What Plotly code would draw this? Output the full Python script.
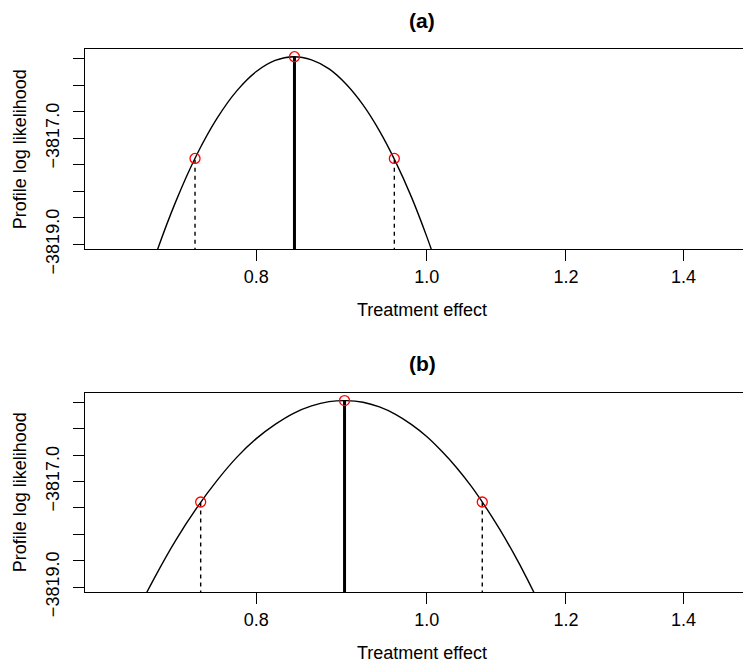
import plotly.graph_objects as go

# ---- data ----
effect_a = [0.68, 0.70, 0.72, 0.74, 0.76, 0.78, 0.80, 0.82, 0.84, 0.86, 0.88,
            0.90, 0.92, 0.94, 0.96, 0.98, 1.00, 1.02]
loglik_a = [-3820.57, -3819.27, -3818.19, -3817.31, -3816.62, -3816.10, -3815.74,
            -3815.53, -3815.46, -3815.52, -3815.69, -3815.98, -3816.37, -3816.86,
            -3817.44, -3818.10, -3818.85, -3819.67]
mle_a = 0.841
peak_a = -3815.46
ci_a = [0.7383, 0.9585]
ci_level_a = -3817.38

effect_b = [0.66, 0.68, 0.70, 0.72, 0.74, 0.76, 0.78, 0.80, 0.82, 0.84, 0.86, 0.88,
            0.90, 0.92, 0.94, 0.96, 0.98, 1.00, 1.02, 1.04, 1.06, 1.08, 1.10, 1.12,
            1.14, 1.16, 1.18]
loglik_b = [-3820.60, -3819.65, -3818.83, -3818.11, -3817.50, -3816.98, -3816.54,
            -3816.19, -3815.92, -3815.71, -3815.57, -3815.49, -3815.47, -3815.50,
            -3815.59, -3815.73, -3815.92, -3816.15, -3816.43, -3816.74, -3817.09,
            -3817.48, -3817.90, -3818.35, -3818.83, -3819.34, -3819.87]
mle_b = 0.898
peak_b = -3815.47
ci_b = [0.7438, 1.0755]
ci_level_b = -3817.39

x_ticks = [0.8, 1.0, 1.2, 1.4]
x_ticktext = ["0.8", "1.0", "1.2", "1.4"]
y_ticks = [-3819.0, -3818.5, -3818.0, -3817.5, -3817.0, -3816.5, -3816.0, -3815.5]
y_ticktext = ["\u22123819.0", "", "", "", "\u22123817.0", "", "", ""]
y_floor = -3819.094
y_top = -3815.32
x_range_log = [-0.19434, 0.18445]

panel_titles = ["(a)", "(b)"]
x_title = "Treatment effect"
y_title = "Profile log likelihood"

FONT = "Liberation Sans, Arial, Helvetica, sans-serif"

fig = go.Figure()

panels = [
    (effect_a, loglik_a, mle_a, peak_a, ci_a, ci_level_a, "x", "y"),
    (effect_b, loglik_b, mle_b, peak_b, ci_b, ci_level_b, "x2", "y2"),
]
for eff, ll, mle, peak, ci, cil, xa, ya in panels:
    fig.add_trace(go.Scatter(x=eff, y=ll, mode="lines",
                             line=dict(color="black", width=1.4, shape="spline", smoothing=1.0),
                             xaxis=xa, yaxis=ya, showlegend=False, hoverinfo="skip"))
    fig.add_trace(go.Scatter(x=[mle, mle], y=[y_floor - 0.5, peak], mode="lines",
                             line=dict(color="black", width=3),
                             xaxis=xa, yaxis=ya, showlegend=False))
    for c in ci:
        fig.add_trace(go.Scatter(x=[c, c], y=[y_floor - 0.5, cil], mode="lines",
                                 line=dict(color="black", width=1.4, dash="4px,4px"),
                                 xaxis=xa, yaxis=ya, showlegend=False))
    fig.add_trace(go.Scatter(x=[ci[0], mle, ci[1]], y=[cil, peak, cil], mode="markers",
                             marker=dict(symbol="circle-open", size=10,
                                         color="red", line=dict(color="red", width=1.3)),
                             xaxis=xa, yaxis=ya, showlegend=False, cliponaxis=False))

# the page body has an 8px margin, so the figure is drawn 8px in from the corner
OFF = 8
W, H = 751 - OFF, 662 - OFF
L = 85 - OFF


def py(ref_px):
    return (H - (ref_px - OFF)) / H


dom_a = [py(249.3), py(49.3)]
dom_b = [py(592.0), py(392.7)]

xaxis_common = dict(type="log", range=x_range_log, tickvals=x_ticks, ticktext=x_ticktext,
                    ticks="outside", ticklen=11, tickwidth=1, tickcolor="black",
                    showline=True, mirror=True, linecolor="black", linewidth=1.3,
                    showgrid=False, zeroline=False, automargin=False,
                    tickfont=dict(family=FONT, size=18, color="black"))
yaxis_common = dict(range=[y_floor, y_top], tickvals=y_ticks, ticktext=y_ticktext,
                    tickangle=-90, ticks="outside", ticklen=11, tickwidth=1, tickcolor="black",
                    showline=True, mirror=False, linecolor="black", linewidth=1.3,
                    showgrid=False, zeroline=False, ticklabelstandoff=7, automargin=False,
                    tickfont=dict(family=FONT, size=18, color="black"))

fig.update_layout(
    width=W, height=H,
    margin=dict(l=L, r=0, t=0, b=0, autoexpand=False),
    paper_bgcolor="white", plot_bgcolor="white",
    font=dict(family=FONT, size=18, color="black"),
    xaxis=dict(domain=[0, 1], anchor="y", **xaxis_common),
    yaxis=dict(domain=dom_a, anchor="x", **yaxis_common),
    xaxis2=dict(domain=[0, 1], anchor="y2", **xaxis_common),
    yaxis2=dict(domain=dom_b, anchor="x2", **yaxis_common),
)

pw = W - L
cx = (422 - 85) / pw
anns = []
for i, (top_px, bot_px) in enumerate([(49.3, 249.3), (392.7, 592.0)]):
    anns.append(dict(text="<b>" + panel_titles[i] + "</b>", xref="paper", yref="paper",
                     x=cx, y=py(top_px - 29), xanchor="center", yanchor="middle",
                     showarrow=False, font=dict(family=FONT, size=21, color="black")))
    anns.append(dict(text=x_title, xref="paper", yref="paper",
                     x=cx, y=py(bot_px + 61), xanchor="center", yanchor="middle",
                     showarrow=False, font=dict(family=FONT, size=18, color="black")))
    anns.append(dict(text=y_title, xref="paper", yref="paper", textangle=-90,
                     x=(20 - 85) / pw, y=py((top_px + bot_px) / 2),
                     xanchor="center", yanchor="middle",
                     showarrow=False, font=dict(family=FONT, size=18, color="black")))
fig.update_layout(annotations=anns)

fig.write_html("out.html")
